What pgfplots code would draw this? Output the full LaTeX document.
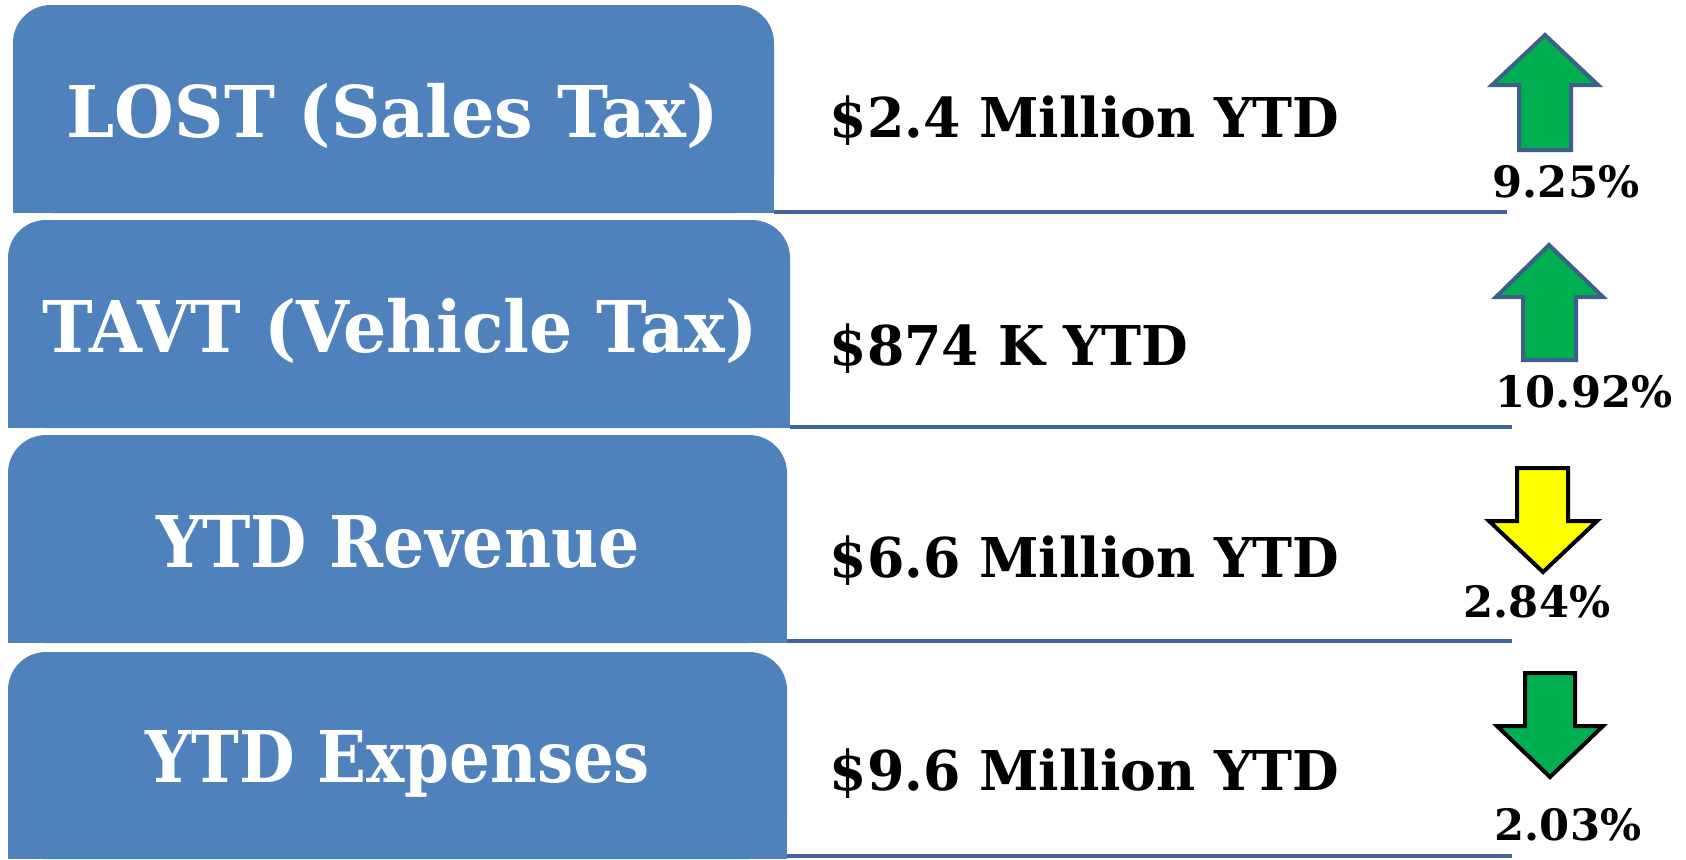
\documentclass[border=0pt]{standalone}
\usepackage{pgfplots}
\pgfplotsset{compat=1.18}
\usepackage{graphicx}
\usepackage{fontspec}
\setmainfont{DejaVu Serif}
\definecolor{boxblue}{RGB}{79,129,189}
\definecolor{lineblue}{RGB}{64,102,153}
\definecolor{arrowedge}{RGB}{62,94,140}
\definecolor{upgreen}{RGB}{0,176,80}
\definecolor{downyellow}{RGB}{255,255,0}
\newcommand{\boxfont}{\fontsize{20.3}{24}\selectfont\bfseries}
\newcommand{\valfont}{\fontsize{15.6}{18}\selectfont\bfseries}
\newcommand{\pctfont}{\fontsize{12.3}{14}\selectfont\bfseries}
\begin{document}
\begin{tikzpicture}
\begin{axis}[width=16.86cm,height=8.59cm,scale only axis,
  xmin=0,xmax=1686,ymin=0,ymax=859,y dir=reverse,hide axis,clip=false]
\path (0,0) rectangle (1686,859);
% row boxes
\fill[boxblue,rounded corners=3.8mm] (13,213) -- (13,5) -- (774,5) -- (774,213) -- cycle;
\fill[boxblue] (13,100) rectangle (774,213);
\fill[boxblue,rounded corners=3.8mm] (8,428) -- (8,220) -- (790,220) -- (790,428) -- cycle;
\fill[boxblue] (8,320) rectangle (790,428);
\fill[boxblue,rounded corners=3.8mm] (8,643) -- (8,435) -- (787,435) -- (787,643) -- cycle;
\fill[boxblue] (8,540) rectangle (787,643);
\fill[boxblue,rounded corners=3.8mm] (8,859) -- (8,652) -- (787,652) -- (787,859) -- cycle;
\fill[boxblue] (8,760) rectangle (787,859);
% separator lines
\draw[lineblue,line width=0.4mm] (774,212) -- (1507,212);
\draw[lineblue,line width=0.4mm] (790,427) -- (1512,427);
\draw[lineblue,line width=0.4mm] (787,641) -- (1512,641);
\draw[lineblue,line width=0.4mm] (787,856) -- (1512,856);
% arrows
\addplot[fill=upgreen,draw=arrowedge,line width=0.4mm] coordinates {(1519,150) (1519,85) (1492,85) (1545,35) (1598,85) (1571,85) (1571,150)} -- cycle;
\addplot[fill=upgreen,draw=arrowedge,line width=0.4mm] coordinates {(1523,360) (1523,297) (1496,297) (1549,245) (1603,297) (1576,297) (1576,360)} -- cycle;
\addplot[fill=downyellow,draw=black,line width=0.4mm] coordinates {(1517,468) (1568,468) (1568,521) (1597,521) (1543,572) (1489,521) (1517,521)} -- cycle;
\addplot[fill=upgreen,draw=black,line width=0.4mm] coordinates {(1525,673) (1575,673) (1575,726) (1603,726) (1550,777) (1497,726) (1525,726)} -- cycle;
% box labels
\node[anchor=base,text=white,inner sep=0pt] at (393,137) {\boxfont\scalebox{0.96}[1]{LOST (Sales Tax)}};
\node[anchor=base,text=white,inner sep=0pt] at (400,352) {\boxfont\scalebox{0.955}[1]{TAVT (Vehicle Tax)}};
\node[anchor=base,text=white,inner sep=0pt] at (398,567) {\boxfont\scalebox{0.91}[1]{YTD Revenue}};
\node[anchor=base,text=white,inner sep=0pt] at (398,782) {\boxfont\scalebox{0.90}[1]{YTD Expenses}};
% values
\node[anchor=base west,inner sep=0pt] at (829,137) {\valfont\scalebox{0.98}[1]{\$2.4 Million YTD}};
\node[anchor=base west,inner sep=0pt] at (829,365) {\valfont\scalebox{0.98}[1]{\$874 K YTD}};
\node[anchor=base west,inner sep=0pt] at (829,577) {\valfont\scalebox{0.98}[1]{\$6.6 Million YTD}};
\node[anchor=base west,inner sep=0pt] at (829,790) {\valfont\scalebox{0.98}[1]{\$9.6 Million YTD}};
% percentages
\node[anchor=base,inner sep=0pt] at (1566,197) {\pctfont 9.25\%};
\node[anchor=base,inner sep=0pt] at (1584,407) {\pctfont 10.92\%};
\node[anchor=base,inner sep=0pt] at (1537,617) {\pctfont 2.84\%};
\node[anchor=base,inner sep=0pt] at (1568,840) {\pctfont 2.03\%};
\end{axis}
\end{tikzpicture}
\end{document}
